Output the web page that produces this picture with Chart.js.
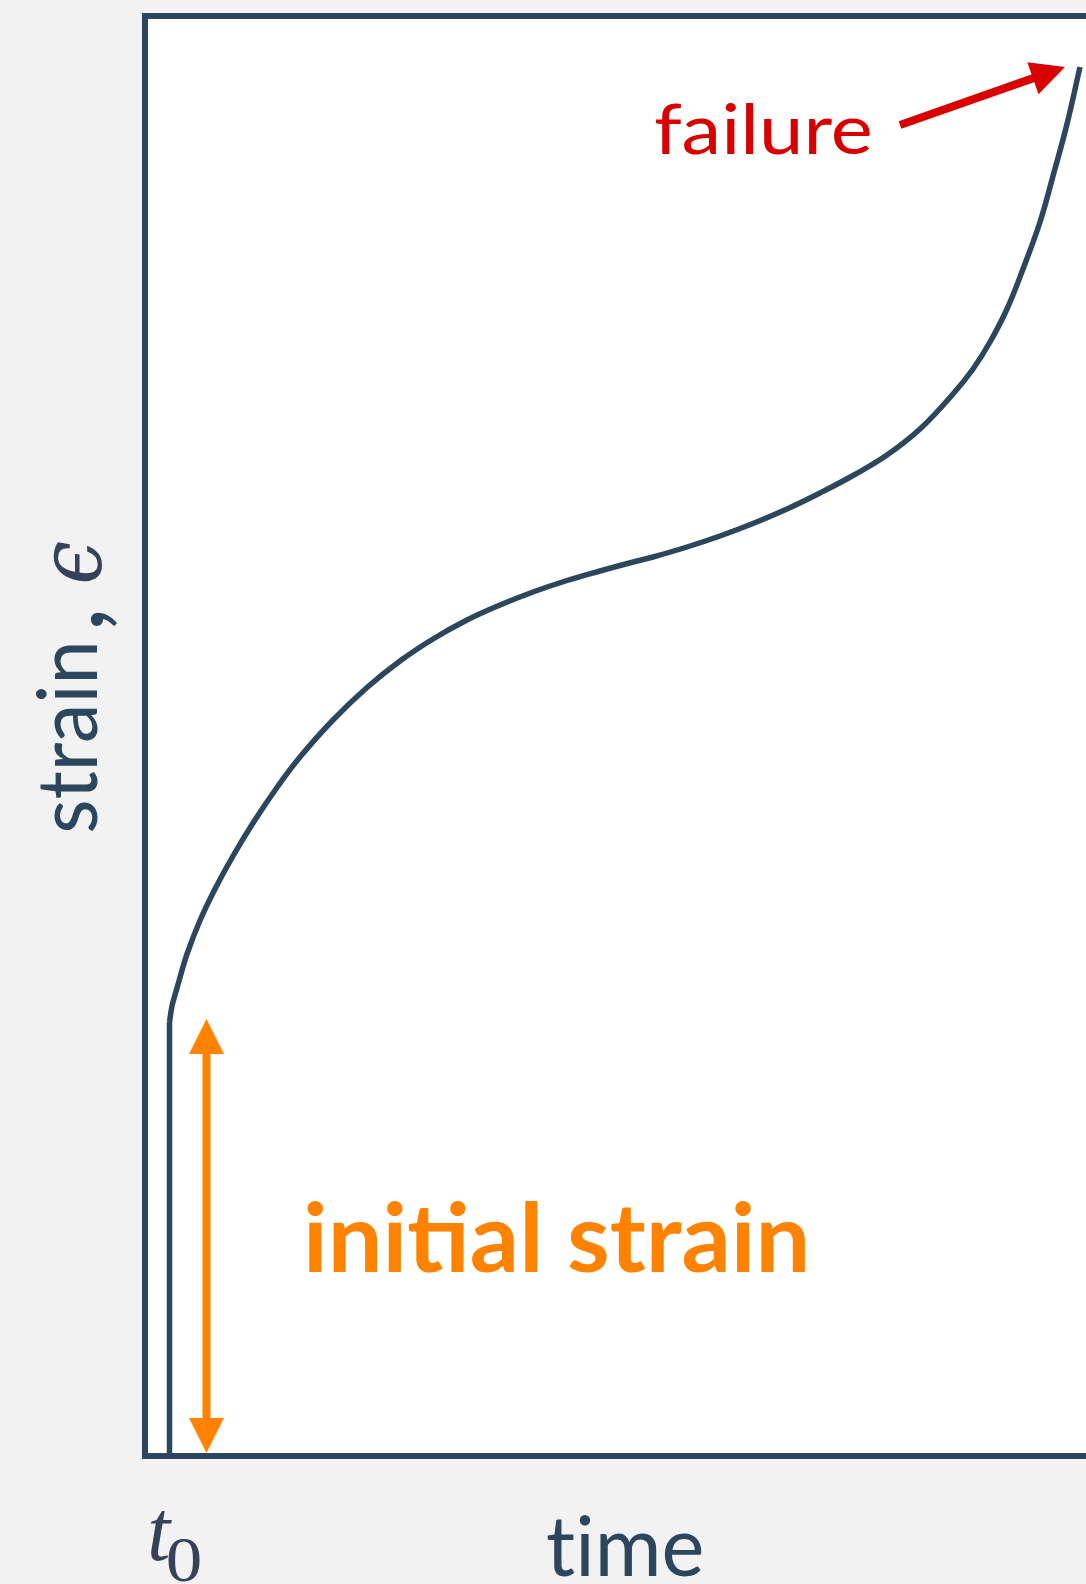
<!DOCTYPE html>
<html><head><meta charset="utf-8">
<script src="https://cdn.jsdelivr.net/npm/chart.js@4"></script>
<style>
html,body{margin:0;padding:0;background:#f2f2f2;overflow:hidden;width:1086px;height:1584px;}
canvas{display:block;}
</style></head><body>
<canvas id="c" width="1160" height="1584"></canvas>
<script>
// ---- data (time, strain) ----
const curveTime   = [0.245,0.27,0.30,0.34,0.42,0.55,0.70,0.88,1.08,1.33,1.55,1.88,2.22,2.55,2.88,3.22,3.55,3.88,4.22,4.55,4.92,5.08,5.42,5.75,6.08,6.42,6.75,7.08,7.42,7.75,8.08,8.28,8.45,8.62,8.78,8.95,9.08,9.22,9.35];
const curveStrain = [4.34,4.50,4.61,4.75,5.02,5.355,5.67,6.00,6.33,6.70,6.99,7.36,7.685,7.95,8.17,8.36,8.51,8.64,8.755,8.85,8.95,8.99,9.09,9.20,9.325,9.47,9.63,9.805,10.01,10.27,10.62,10.87,11.14,11.47,11.87,12.34,12.80,13.32,13.89];
const loadTime = [0.245, 0.245];
const loadStrain = [0, 4.34];
const initialArrowTime = [0.615, 0.615];
const initialArrowStrain = [0.03, 4.37];
const failureArrowTime = [7.55, 9.20];
const failureArrowStrain = [13.31, 13.89];
const axisTime = [0, 10];
const axisStrain = [0, 14.4];

const SLATE = '#2c465e';
const ORANGE = '#ff8200';
const RED = '#d90000';

function pts(xs, ys){ return xs.map((x,i)=>({x:x, y:ys[i]})); }

function fitText(ctx, text, font, color, x0, y0, x1, y1){
  ctx.save();
  ctx.font = font;
  ctx.textAlign = 'left';
  ctx.textBaseline = 'alphabetic';
  const m = ctx.measureText(text);
  const L = m.actualBoundingBoxLeft, R = m.actualBoundingBoxRight;
  const A = m.actualBoundingBoxAscent, D = m.actualBoundingBoxDescent;
  const sx = (x1-x0)/(L+R), sy = (y1-y0)/(A+D);
  ctx.translate(x0 + L*sx, y0 + A*sy);
  ctx.scale(sx, sy);
  ctx.fillStyle = color;
  ctx.fillText(text, 0, 0);
  ctx.restore();
}

function arrowLine(ctx, x1, y1, x2, y2, width, headLen, headW, color, both){
  const ang = Math.atan2(y2-y1, x2-x1);
  const ux = Math.cos(ang), uy = Math.sin(ang);
  const sx = both ? x1 + ux*headLen*0.9 : x1, sy = both ? y1 + uy*headLen*0.9 : y1;
  const ex = x2 - ux*headLen*0.9, ey = y2 - uy*headLen*0.9;
  ctx.save();
  ctx.strokeStyle = color; ctx.fillStyle = color;
  ctx.lineWidth = width; ctx.lineCap = 'butt';
  ctx.beginPath(); ctx.moveTo(sx, sy); ctx.lineTo(ex, ey); ctx.stroke();
  const head = (tx, ty, dx, dy) => {
    const bx = tx - dx*headLen, by = ty - dy*headLen;
    ctx.beginPath();
    ctx.moveTo(tx, ty);
    ctx.lineTo(bx + (-dy)*headW/2, by + dx*headW/2);
    ctx.lineTo(bx - (-dy)*headW/2, by - dx*headW/2);
    ctx.closePath(); ctx.fill();
  };
  head(x2, y2, ux, uy);
  if (both) head(x1, y1, -ux, -uy);
  ctx.restore();
}

const framePlugin = {
  id: 'frame',
  beforeDraw(chart){
    const {ctx, chartArea:a} = chart;
    ctx.save();
    ctx.fillStyle = '#f2f2f2';
    ctx.fillRect(0, 0, chart.width, chart.height);
    ctx.fillStyle = '#ffffff';
    ctx.fillRect(a.left, a.top, a.right - a.left + 100, a.bottom - a.top);
    ctx.strokeStyle = SLATE;
    ctx.lineWidth = 6;
    ctx.strokeRect(a.left, a.top, a.right - a.left + 100, a.bottom - a.top);
    ctx.restore();
  },
  afterDatasetsDraw(chart){
    const {ctx, scales:{x, y}} = chart;
    arrowLine(ctx,
      x.getPixelForValue(initialArrowTime[0]), y.getPixelForValue(initialArrowStrain[0]),
      x.getPixelForValue(initialArrowTime[1]), y.getPixelForValue(initialArrowStrain[1]),
      8, 35, 35, ORANGE, true);
    arrowLine(ctx,
      x.getPixelForValue(failureArrowTime[0]), y.getPixelForValue(failureArrowStrain[0]),
      x.getPixelForValue(failureArrowTime[1]), y.getPixelForValue(failureArrowStrain[1]),
      8, 34, 34, RED, false);
    fitText(ctx, 'failure', '75px Lato', RED, 655, 102, 870, 155);
    fitText(ctx, 'initial strain', 'bold 100px Lato', ORANGE, 307, 1201, 805, 1273);
    fitText(ctx, 't\u200Cime', '92px Lato', SLATE, 547, 1515, 702, 1577);
    fitText(ctx, 't', 'italic 90px "Liberation Serif"', '#34425a', 150, 1510, 172, 1561);
    fitText(ctx, '0', '64px "Liberation Serif"', '#34425a', 168, 1539, 200, 1582);
    ctx.save();
    ctx.rotate(-Math.PI/2);
    fitText(ctx, 'strain', '88px Lato', SLATE, -832, 37, -645, 98);
    fitText(ctx, ',', '88px Lato', SLATE, -627, 90, -612, 117);
    fitText(ctx, '\u03F5', 'italic 90px "DejaVu Serif"', '#34425a', -582, 53, -542, 102);
    ctx.restore();
  }
};

new Chart(document.getElementById('c'), {
  type: 'line',
  data: {
    datasets: [
      { data: pts(loadTime, loadStrain), borderColor: SLATE, borderWidth: 5.5, pointRadius: 0, tension: 0, fill: false },
      { data: pts(curveTime, curveStrain), borderColor: SLATE, borderWidth: 5.5, pointRadius: 0, tension: 0.4, fill: false, borderJoinStyle: 'round' }
    ]
  },
  options: {
    responsive: false,
    animation: false,
    devicePixelRatio: 1,
    layout: { padding: { left: 145, right: 15, top: 16, bottom: 128 } },
    plugins: { legend: { display: false }, tooltip: { enabled: false } },
    scales: {
      x: { type: 'linear', min: axisTime[0], max: axisTime[1], display: false },
      y: { type: 'linear', min: axisStrain[0], max: axisStrain[1], display: false }
    }
  },
  plugins: [framePlugin]
});
</script>
</body></html>
